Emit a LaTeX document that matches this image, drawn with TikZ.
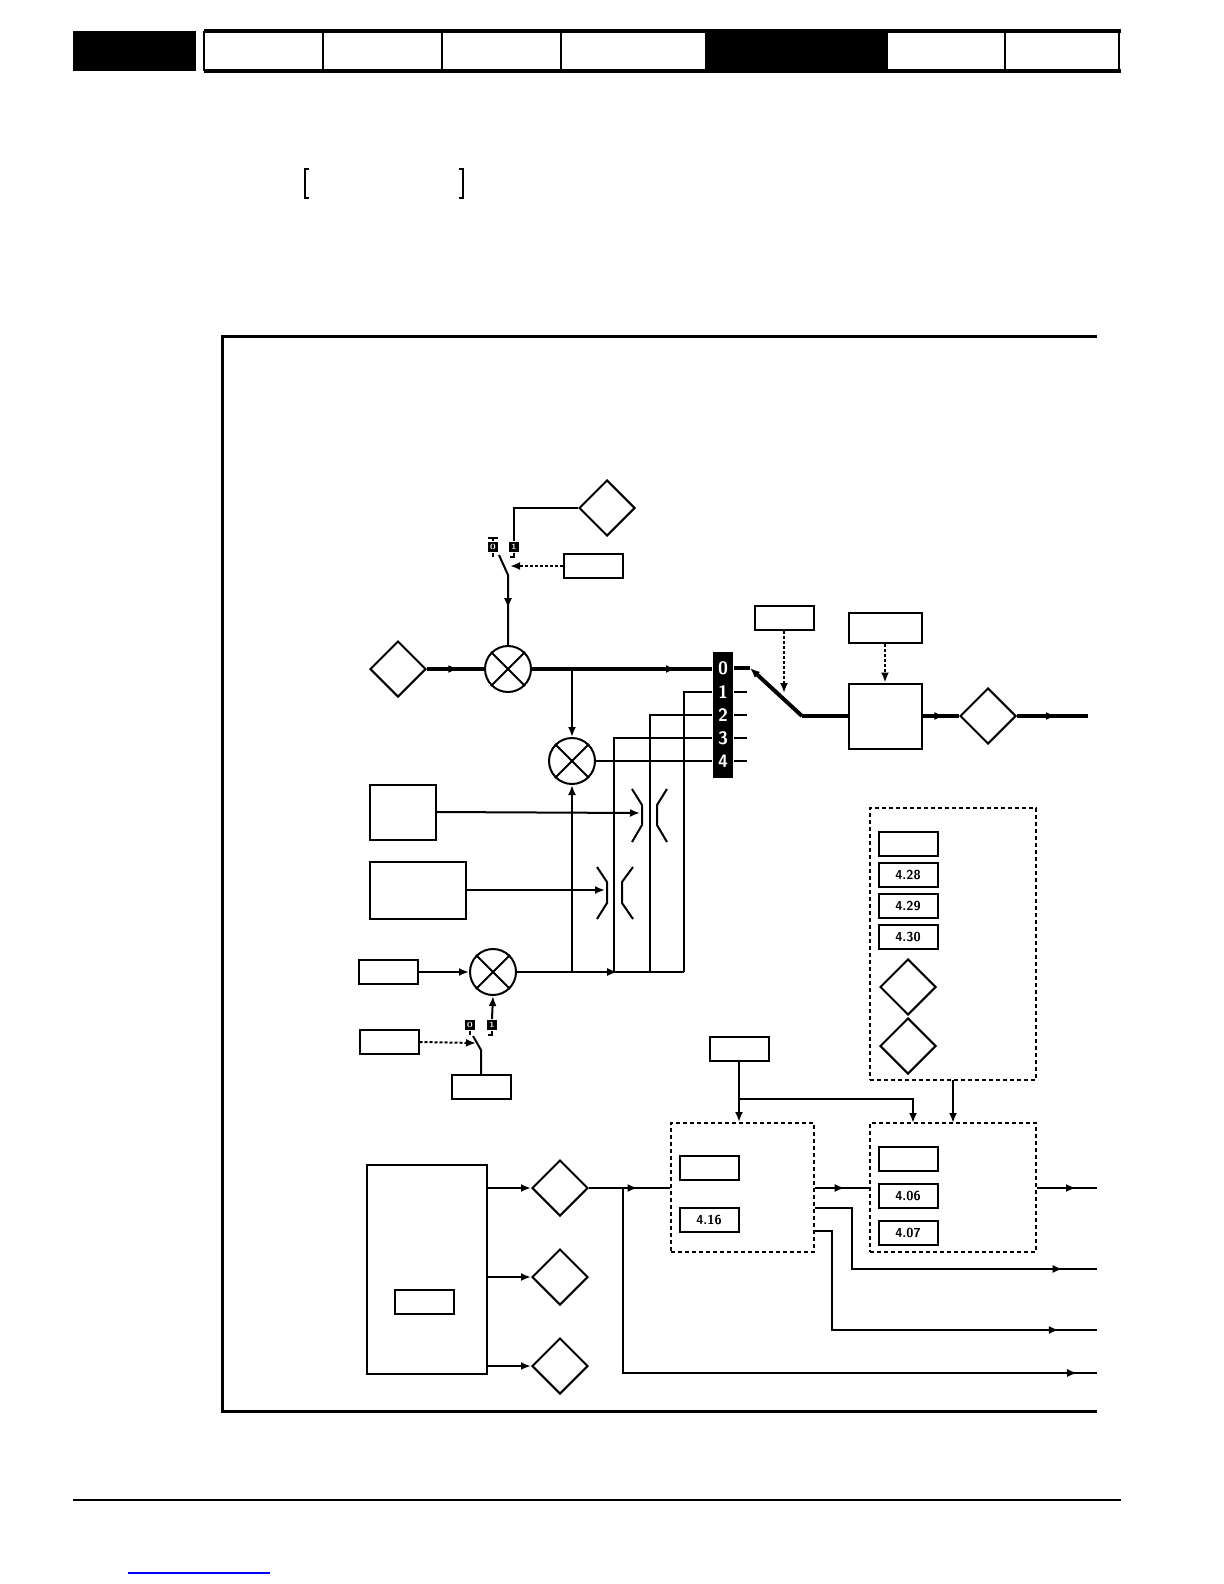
\documentclass[tikz,border=0pt]{standalone}
\usepackage{tikz}
\usetikzlibrary{positioning,arrows.meta,shapes.geometric,decorations.markings}
\begin{document}
\begin{tikzpicture}[x=0.5pt,y=-0.5pt,line width=1pt,>={Latex[length=5pt,width=4pt]},
  par/.style={draw,rectangle,line width=1pt,minimum width=29.5pt,minimum height=12pt,inner sep=0pt},
  num/.style={par,font=\sffamily\bfseries\fontsize{6.5}{6.5}\selectfont},
  blk/.style={draw,rectangle,line width=1pt,inner sep=0pt},
  dia/.style={draw,diamond,line width=1pt,minimum size=28pt,inner sep=0pt},
  mix/.style={draw,circle,line width=1pt,minimum size=23pt,inner sep=0pt},
  term/.style={fill=black,text=white,font=\bfseries\fontsize{4}{4}\selectfont,minimum size=5pt,inner sep=0pt},
  dbox/.style={draw,rectangle,dashed,line width=1pt,dash pattern=on 2pt off 1.5pt,inner sep=0pt},
  mid/.style={postaction={decorate},decoration={markings,mark=at position #1 with {\arrow{>}}}},
  heavy/.style={line width=2pt},
  dots/.style={->,dash pattern=on 1.5pt off 1pt}]

  \useasboundingbox (0,0) rectangle (1224,1584);

  % header
  \fill (73,31) rectangle (196,71);
  \fill (705,31) rectangle (887,71);
  \draw[line width=2pt] (204,31) -- (1121,31) (204,71) -- (1121,71);
  \draw[line width=1pt] (204,31) -- (204,71) (1119,31) -- (1119,71);
  \foreach \x in {323,442,561,887,1005} \draw[line width=0.6pt] (\x,31) -- (\x,71);
  \draw[line width=0.6pt] (309,169) -- ++(-4,0) -- ++(0,29) -- ++(4,0);
  \draw[line width=0.6pt] (459,169) -- ++(4,0) -- ++(0,29) -- ++(-4,0);
  \draw[line width=1pt] (73,1500) -- (1121,1500);
  \draw[blue,line width=0.8pt] (128,1573) -- (270,1573);

  % frame
  \draw[line width=1.5pt] (1097,336) -- (222,336) -- (222,1411) -- (1097,1411);

  % upper path
  \node[dia] (dTop) at (607,508) {};
  \node[par] (pSw1) at (593,566) {};
  \node[term] (t10) at (493,547) {0};
  \node[term] (t11) at (514,547) {1};
  \node[dia] (dIn) at (398,669) {};
  \node[mix] (m1) at (508,669) {};
  \node[mix] (m2) at (572,761) {};
  \node[fill=black,minimum width=10pt,minimum height=63pt,inner sep=0pt] (sel) at (723,715) {};
  \foreach \n/\y in {0/668,1/692,2/715,3/738,4/761}
    \node[text=white,font=\sffamily\bfseries\small] (s\n) at (723,\y) {\n};
  \node[par] (pRamp) at (784,618) {};
  \node[blk,minimum width=36.5pt,minimum height=15pt] (pLim) at (885,628) {};
  \node[blk,minimum width=36.5pt,minimum height=32.5pt] (bLim) at (885,716) {};
  \node[dia] (dOut) at (988,716) {};
  \coordinate (cLev) at (750,668);
  \coordinate (cPiv) at (802,716);

  \draw (t11) -- (514,508) -- (dTop.west);
  \draw (488,538) -- (498,538) (493,538) -- (t10);
  \draw (t10.south) -- ++(0,4) (t11.south) -- ++(0,4) -- ++(-4,0);
  \draw (499,555) -- (508,575) -- (m1.north) [mid=0.6];
  \draw[dots] (pSw1.west) -- (510,566);
  \draw[heavy,mid=0.55] (dIn.east) -- (m1.west);
  \draw[heavy,mid=0.8] (m1.east) -- (sel.west |- m1);
  \draw[->] (572,669) -- (m2.north);
  \draw (m2.east) -- (sel.west |- m2);
  \draw[heavy] (sel.east |- s0) -- (cLev);
  \draw[heavy,->] (cPiv) -- (cLev);
  \draw[heavy] (cPiv) -- (bLim.west);
  \draw[dots] (pRamp.south) -- (784,693);
  \draw[dots] (pLim.south) -- (bLim.north);
  \draw[heavy,mid=0.6] (bLim.east) -- (dOut.west);
  \draw[heavy,mid=0.55] (dOut.east) -- (1088,716);
  \foreach \y in {692,715,738,761} \draw (sel.east |- 0,\y) -- (747,\y);

  % lower feeds
  \node[blk,minimum width=33pt,minimum height=27.5pt] (bA) at (403,812) {};
  \node[blk,minimum width=48pt,minimum height=28.5pt] (bB) at (418,890) {};
  \node[par] (pIn3) at (388,972) {};
  \node[mix] (m3) at (493,972) {};
  \node[par] (pSw3) at (389,1042) {};
  \node[term] (t30) at (470,1025) {0};
  \node[term] (t31) at (492,1025) {1};
  \node[par] (pSel3) at (481,1087) {};

  \draw[->] (pIn3.east) -- (m3.west);
  \draw[mid=0.6] (m3.east) -- (684,972);
  \draw[->] (572,972) -- (m2.south);
  \draw (614,972) -- (614,738) -- (sel.west |- s3);
  \draw (650,972) -- (650,715) -- (sel.west |- s2);
  \draw (684,972) -- (684,692) -- (sel.west |- s1);
  \draw[->] (bA.east) -- (640,813);
  \draw[->] (bB.east) -- (605,890);
  \draw (632,789) -- (642,805) -- (642,825) -- (632,842);
  \draw (667,789) -- (657,805) -- (657,825) -- (667,842);
  \draw (597,867) -- (607,882) -- (607,903) -- (597,919);
  \draw (633,867) -- (622,882) -- (622,903) -- (633,919);
  \draw[->] (t31.north) -- (m3.south);
  \draw (t30.south) -- ++(0,4) (t31.south) -- ++(0,4) -- ++(-4,0);
  \draw (pSel3.north) -- (481,1050) -- (473,1036);
  \draw[dots] (pSw3.east) -- (476,1043);

  % right-hand groups
  \node[dbox,minimum width=83pt,minimum height=136pt] (gUp) at (953,944) {};
  \node[par] (g1) at (908,844) {};
  \node[num] (g2) at (908,875) {4.28};
  \node[num] (g3) at (908,906) {4.29};
  \node[num] (g4) at (908,937) {4.30};
  \node[dia] (gd1) at (908,987) {};
  \node[dia] (gd2) at (908,1046) {};

  \node[par] (pTop) at (739,1049) {};
  \coordinate (cJ) at (739,1099);
  \node[dbox,minimum width=71.5pt,minimum height=64.5pt] (gL) at (742.5,1187.5) {};
  \node[par] (l1) at (709,1168) {};
  \node[num] (l2) at (709,1220) {4.16};
  \node[dbox,minimum width=83pt,minimum height=64.5pt] (gR) at (953,1187.5) {};
  \node[par] (r1) at (908,1159) {};
  \node[num] (r2) at (908,1196) {4.06};
  \node[num] (r3) at (908,1233) {4.07};

  \draw[->] (pTop.south) -- (cJ) -- (gL.north -| cJ);
  \draw[->] (cJ) -- (913,1099) -- (913,1123);
  \draw[->] (953,1080) -- (953,1123);
  \draw[mid=0.55] (gL.east |- 0,1188) -- (gR.west |- 0,1188);
  \draw[mid=0.65] (gR.east |- 0,1188) -- (1097,1188);
  \draw[mid=0.9] (gL.east |- 0,1208) -- (852,1208) -- (852,1269) -- (1097,1269);
  \draw[mid=0.9] (gL.east |- 0,1231) -- (832,1231) -- (832,1330) -- (1097,1330);

  % encoder block
  \node[blk,minimum width=60pt,minimum height=104.5pt] (bEnc) at (427,1269.5) {};
  \node[par] (pEnc) at (424,1302) {};
  \node[dia] (e1) at (560,1188) {};
  \node[dia] (e2) at (560,1277) {};
  \node[dia] (e3) at (560,1366) {};
  \foreach \e in {e1,e2,e3} \draw[->] (bEnc.east |- \e) -- (\e.west);
  \draw[mid=0.6] (e1.east) -- (gL.west |- e1);
  \draw[mid=0.97] (623,1188) -- (623,1373) -- (1097,1373);

  % cross marks
  \foreach \m in {m1,m2,m3} {
    \draw (\m.north east) -- (\m.south west);
    \draw (\m.north west) -- (\m.south east);
  }
\end{tikzpicture}
\end{document}
